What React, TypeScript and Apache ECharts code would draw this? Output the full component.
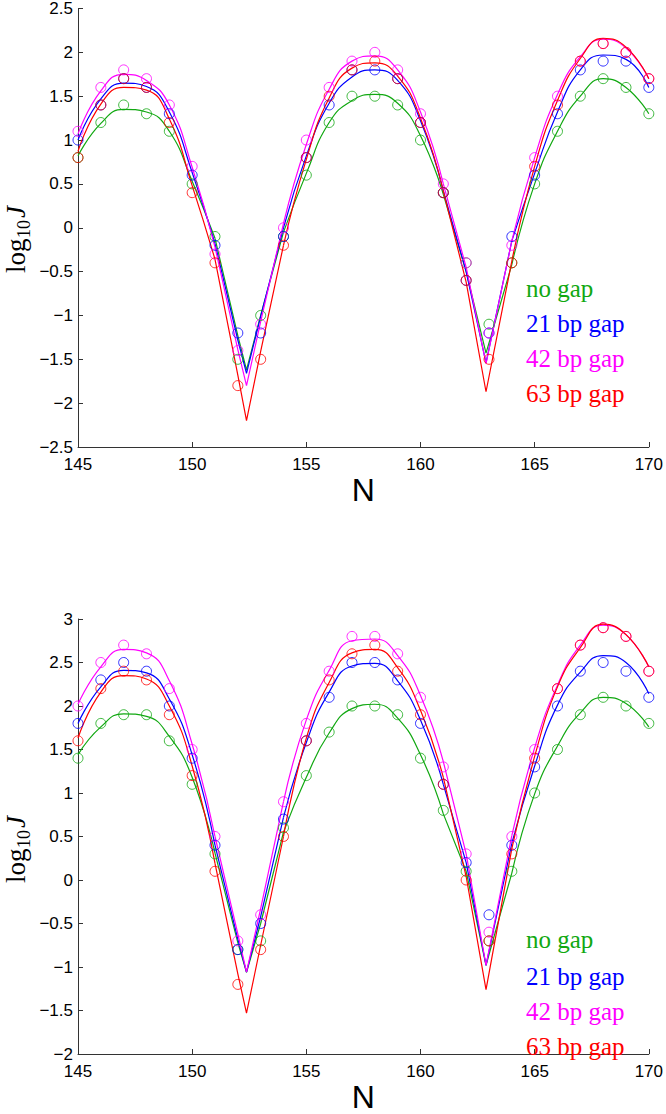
import React, { useEffect, useRef } from "react";
import * as echarts from "echarts";

// ---------- data ----------
const N = [145, 146, 147, 148, 149, 150, 151, 152, 153, 154, 155, 156, 157, 158, 159, 160, 161, 162, 163, 164, 165, 166, 167, 168, 169, 170];
const LABELS = ["no gap", "21 bp gap", "42 bp gap", "63 bp gap"];
const COLORS = ["#11a811", "#0000ff", "#ff00ff", "#ff0000"];

// measured points (circles), top panel
const topNoGap = [0.8, 1.2, 1.4, 1.3, 1.1, 0.5, -0.1, -1.5, -1.0, -0.1, 0.6, 1.2, 1.5, 1.5, 1.4, 1.0, 0.4, -0.4, -1.1, -0.4, 0.5, 1.1, 1.5, 1.7, 1.6, 1.3];
const top21 = [1.0, 1.4, 1.7, 1.6, 1.3, 0.6, -0.2, -1.2, -1.2, -0.1, 0.8, 1.4, 1.8, 1.8, 1.7, 1.2, 0.4, -0.6, -1.2, -0.1, 0.6, 1.3, 1.8, 1.9, 1.9, 1.6];
const top42 = [1.1, 1.6, 1.8, 1.7, 1.4, 0.7, -0.3, -1.4, -1.1, 0.0, 1.0, 1.6, 1.9, 2.0, 1.8, 1.3, 0.5, -0.4, -1.2, -0.2, 0.8, 1.5, 1.9, 2.1, 2.0, 1.7];
const top63 = [0.8, 1.4, 1.7, 1.6, 1.2, 0.4, -0.4, -1.8, -1.5, -0.2, 0.8, 1.5, 1.8, 1.9, 1.7, 1.2, 0.4, -0.6, -1.5, -0.4, 0.7, 1.4, 1.9, 2.1, 2.0, 1.7];

// measured points (circles), bottom panel
const botNoGap = [1.4, 1.8, 1.9, 1.9, 1.6, 1.1, 0.3, -0.8, -0.7, 0.6, 1.2, 1.7, 2.0, 2.0, 1.9, 1.4, 0.8, 0.1, -0.7, 0.1, 1.0, 1.5, 1.9, 2.1, 2.0, 1.8];
const bot21 = [1.8, 2.3, 2.5, 2.4, 2.0, 1.4, 0.4, -0.8, -0.5, 0.7, 1.6, 2.1, 2.5, 2.5, 2.3, 1.8, 1.1, 0.2, -0.4, 0.4, 1.3, 2.0, 2.4, 2.5, 2.4, 2.1];
const bot42 = [2.0, 2.5, 2.7, 2.6, 2.2, 1.5, 0.5, -0.7, -0.4, 0.9, 1.8, 2.4, 2.8, 2.8, 2.6, 2.1, 1.3, 0.3, -0.6, 0.5, 1.5, 2.2, 2.7, 2.9, 2.8, 2.4];
const bot63 = [1.6, 2.2, 2.4, 2.3, 1.9, 1.2, 0.1, -1.2, -0.8, 0.5, 1.6, 2.3, 2.6, 2.7, 2.4, 1.9, 1.1, 0.0, -0.7, 0.3, 1.4, 2.2, 2.7, 2.9, 2.8, 2.4];

const FIT_X = [145, 146, 147, 148, 149, 150, 151, 152, 152.38, 153, 154, 155, 156, 157, 158, 159, 160, 161, 162, 162.87, 164, 165, 166, 167, 168, 169, 170];
const topFitNoGap = [0.82, 1.19, 1.35, 1.32, 1.1, 0.53, -0.12, -1.23, -1.62, -1.0, -0.05, 0.62, 1.2, 1.45, 1.52, 1.42, 1.05, 0.38, -0.5, -1.43, -0.42, 0.5, 1.1, 1.5, 1.7, 1.6, 1.3];
const topFit21 = [1.0, 1.47, 1.65, 1.61, 1.32, 0.63, -0.18, -1.28, -1.66, -1.01, 0.0, 0.82, 1.42, 1.72, 1.8, 1.68, 1.22, 0.42, -0.5, -1.54, -0.15, 0.62, 1.32, 1.8, 1.97, 1.92, 1.6];
const topFit42 = [1.07, 1.56, 1.75, 1.68, 1.4, 0.69, -0.22, -1.39, -1.8, -1.07, 0.05, 0.95, 1.58, 1.9, 1.96, 1.8, 1.32, 0.5, -0.45, -1.55, -0.15, 0.8, 1.52, 1.95, 2.15, 2.05, 1.7];
const topFit63 = [0.87, 1.41, 1.6, 1.57, 1.24, 0.48, -0.36, -1.68, -2.2, -1.41, -0.2, 0.78, 1.48, 1.82, 1.88, 1.73, 1.25, 0.42, -0.62, -1.87, -0.38, 0.7, 1.45, 1.93, 2.16, 2.06, 1.7];
const botFitNoGap = [1.44, 1.76, 1.91, 1.88, 1.65, 1.18, 0.31, -0.72, -1.06, -0.5, 0.55, 1.18, 1.69, 1.97, 2.02, 1.86, 1.44, 0.76, 0.1, -0.98, 0.08, 0.99, 1.54, 1.92, 2.1, 2.03, 1.76];
const botFit21 = [1.8, 2.22, 2.41, 2.38, 2.08, 1.44, 0.4, -0.68, -1.06, -0.42, 0.72, 1.58, 2.16, 2.46, 2.49, 2.29, 1.84, 1.1, 0.2, -0.98, 0.42, 1.31, 2.01, 2.39, 2.58, 2.5, 2.14];
const botFit42 = [2.02, 2.45, 2.65, 2.61, 2.29, 1.56, 0.5, -0.62, -1.06, -0.33, 0.9, 1.84, 2.41, 2.75, 2.77, 2.58, 2.12, 1.36, 0.3, -0.98, 0.51, 1.52, 2.24, 2.7, 2.93, 2.82, 2.45];
const botFit63 = [1.63, 2.16, 2.35, 2.31, 2.0, 1.31, 0.19, -1.08, -1.53, -0.75, 0.5, 1.63, 2.27, 2.61, 2.65, 2.44, 1.95, 1.18, 0.04, -1.26, 0.36, 1.42, 2.22, 2.67, 2.94, 2.82, 2.45];

// index ranges of the sharp minima (drawn straight), the rest is drawn smooth
const V_RANGES = [[6, 10], [17, 20]];

// axis ticks
const X_TICKS = { min: 145, max: 170, interval: 5 };
const TOP_Y = { min: -2.5, max: 2.5, interval: 0.5 };
const BOT_Y = { min: -2, max: 3, interval: 0.5 };

const PANELS = [
  { pts: [topNoGap, top21, top42, top63], fits: [topFitNoGap, topFit21, topFit42, topFit63], y: TOP_Y, top: 6, legendY: [288, 323, 358, 393], labelY: 273 },
  { pts: [botNoGap, bot21, bot42, bot63], fits: [botFitNoGap, botFit21, botFit42, botFit63], y: BOT_Y, top: 619, legendY: [939, 976, 1011, 1046], labelY: 883 },
];

const GRID_LEFT = 78;
const GRID_W = 573;
const GRID_H = 441;

function inV(i: number) {
  return V_RANGES.some(([a, b]) => i > a && i < b);
}
function inVClosed(i: number) {
  return V_RANGES.some(([a, b]) => i >= a && i <= b);
}

function buildOption() {
  const grids: any[] = [];
  const xAxes: any[] = [];
  const yAxes: any[] = [];
  const series: any[] = [];
  const graphics: any[] = [];
  const fmt = (v: number) => (v < 0 ? "\u2212" + String(-v) : String(v));

  PANELS.forEach((p, pi) => {
    grids.push({ left: GRID_LEFT, top: p.top, width: GRID_W, height: GRID_H, containLabel: false });
    xAxes.push({
      gridIndex: pi,
      type: "value",
      ...X_TICKS,
      name: "N",
      nameLocation: "middle",
      nameGap: 27,
      nameTextStyle: { fontSize: 32, color: "#000", fontFamily: "Liberation Sans" },
      axisLine: { show: true, onZero: false, lineStyle: { color: "#333", width: 1 } },
      axisTick: { show: true, inside: true, length: 5, lineStyle: { color: "#333" } },
      axisLabel: { color: "#000", fontSize: 17, fontFamily: "Liberation Sans", margin: 9 },
      splitLine: { show: false },
    });
    yAxes.push({
      gridIndex: pi,
      type: "value",
      ...p.y,
      axisLine: { show: true, onZero: false, lineStyle: { color: "#333", width: 1 } },
      axisTick: { show: true, inside: true, length: 5, lineStyle: { color: "#333" } },
      axisLabel: { color: "#000", fontSize: 17, fontFamily: "Liberation Sans", margin: 5, formatter: fmt },
      splitLine: { show: false },
    });

    p.fits.forEach((fit, k) => {
      const color = COLORS[k];
      series.push({
        type: "line",
        xAxisIndex: pi,
        yAxisIndex: pi,
        smooth: 0.5,
        symbol: "none",
        silent: true,
        lineStyle: { color, width: 1.2 },
        data: FIT_X.map((x, i) => [x, inV(i) ? "-" : fit[i]]),
        z: 2,
      });
      series.push({
        type: "line",
        xAxisIndex: pi,
        yAxisIndex: pi,
        smooth: false,
        symbol: "none",
        silent: true,
        lineStyle: { color, width: 1.2 },
        data: FIT_X.map((x, i) => [x, inVClosed(i) ? fit[i] : "-"]),
        z: 2,
      });
    });
    p.pts.forEach((vals, k) => {
      const color = COLORS[k];
      series.push({
        type: "scatter",
        xAxisIndex: pi,
        yAxisIndex: pi,
        symbol: "circle",
        symbolSize: 10,
        itemStyle: { color: "rgba(0,0,0,0)", borderColor: color, borderWidth: 1 },
        data: N.map((x, i) => [x, vals[i]]),
        z: 3,
      });
    });

    LABELS.forEach((lab, k) => {
      graphics.push({
        type: "text",
        x: 526,
        y: p.legendY[k],
        style: {
          text: lab,
          fill: COLORS[k],
          font: "25px 'Liberation Serif'",
          lineHeight: 17,
          verticalAlign: "middle",
          align: "left",
        },
        z: 10,
      });
    });

    graphics.push({
      type: "group",
      x: 16,
      y: p.labelY,
      rotation: Math.PI / 2,
      children: [
        { type: "text", x: 0, y: 0, style: { text: "log", font: "27px 'Liberation Serif'", fill: "#000", verticalAlign: "middle", align: "left" } },
        { type: "text", x: 35, y: 8, style: { text: "10", font: "18px 'Liberation Serif'", fill: "#000", verticalAlign: "middle", align: "left" } },
        { type: "text", x: 55, y: 0, style: { text: "J", font: "italic 27px 'Liberation Serif'", fill: "#000", verticalAlign: "middle", align: "left" } },
      ],
    });
  });

  return {
    animation: false,
    backgroundColor: "#fff",
    grid: grids,
    xAxis: xAxes,
    yAxis: yAxes,
    series,
    graphic: graphics,
  };
}

export default function App() {
  const ref = useRef<HTMLDivElement>(null);
  useEffect(() => {
    document.body.style.margin = "0";
    if (!ref.current) return;
    const chart = echarts.init(ref.current, undefined, { renderer: "svg" });
    chart.setOption(buildOption() as any);
    return () => chart.dispose();
  }, []);
  return <div ref={ref} style={{ width: 666, height: 1114 }} />;
}
